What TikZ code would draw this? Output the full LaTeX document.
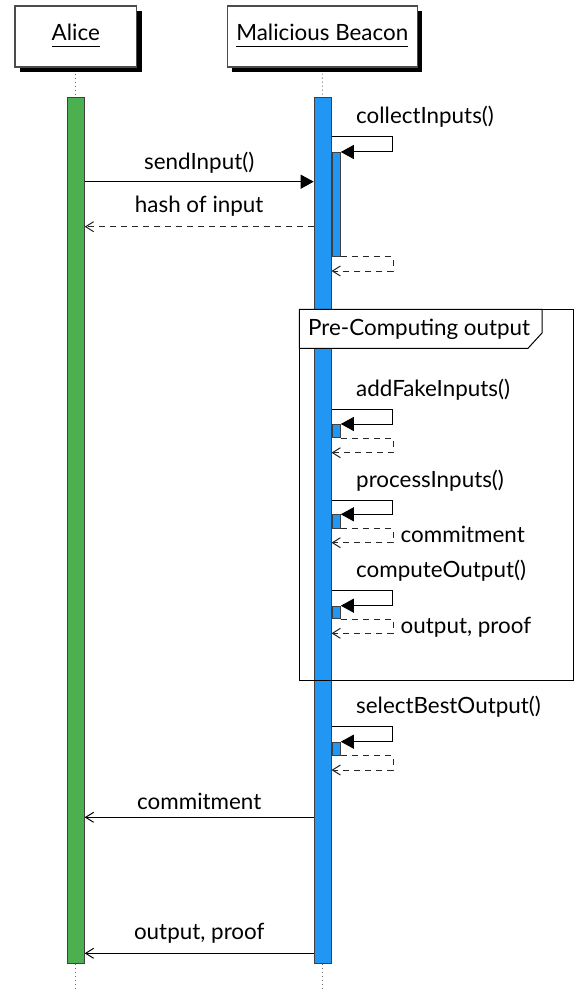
\documentclass[tikz,border=0pt]{standalone}
\usepackage{fontspec}
\setmainfont{Lato}
\usetikzlibrary{arrows.meta,shadows}

\definecolor{alicegreen}{HTML}{4CAF50}
\definecolor{beaconblue}{HTML}{2196F3}

% self call on the beacon: name, top y, arrow y, activation end y, return y, label
\newcommand\selfmsg[6]{%
  \node[nestbar, anchor=north west, minimum height={#4-#3}] (#1) at (bbar.east |- 0,#3) {};
  \draw[call] (bbar.east |- 0,#2) -- ++(60.7,0) |- (#1.north east);
  \draw[reply] (#1.south east) -- ++(52.2,0) |- (bbar.east |- 0,#5);
  \node[anchor=base west] (#1-label) at (356,#2-13) {#6};
}

\begin{document}
\begin{tikzpicture}[x=1pt,y=-1pt,
  every node/.style={font=\fontsize{22.4}{26}\selectfont, inner sep=0pt},
  participant/.style={draw=black!70, line width=1.2pt, fill=white, minimum height=61pt,
    drop shadow={shadow xshift=5pt, shadow yshift=-5pt, opacity=1, fill=black}},
  lifeline/.style={draw=black!60, line width=0.8pt, dash pattern=on 1pt off 3pt},
  actbar/.style={draw=black!75, line width=0.8pt, minimum width=17pt},
  nestbar/.style={draw=black!75, line width=0.8pt, fill=beaconblue, minimum width=8.5pt},
  call/.style={draw=black, line width=1pt, -{Triangle[length=13pt,width=14pt]}},
  reply/.style={draw=black!85, line width=1pt, dash pattern=on 6pt off 5pt,
    -{Straight Barb[length=8pt,width=10pt]}},
  answer/.style={draw=black, line width=1pt, -{Straight Barb[length=8pt,width=10pt]}},
  msglabel/.style={anchor=base, pos=0.5},
]
\fill[white] (0,0) rectangle (574,992);
\useasboundingbox (0,0) rectangle (574,992);

% participants
\node[participant, minimum width=121.5pt] (alice) at (75.8,36.5) {};
\node[participant, minimum width=190pt] (beacon) at (322.3,36.5) {};
\node[anchor=base] (alice-name) at (75.8,40.5) {Alice};
\node[anchor=base] (beacon-name) at (322.3,40.5) {Malicious Beacon};
\draw[line width=1pt] ([yshift=-6.5pt]alice-name.base west) -- ([yshift=-6.5pt]alice-name.base east);
\draw[line width=1pt] ([yshift=-6.5pt]beacon-name.base west) -- ([yshift=-6.5pt]beacon-name.base east);

% activation bars
\node[actbar, fill=alicegreen, anchor=north, minimum height=866pt] (abar) at (75.8,97) {};
\node[actbar, fill=beaconblue, anchor=north, minimum height=866pt] (bbar) at (322.6,97) {};

% lifelines
\coordinate (aend) at (75.8,992);
\coordinate (bend) at (322.6,992);
\draw[lifeline] ([yshift=-6pt]alice.south) -- (abar.north);
\draw[lifeline] ([yshift=-6pt]beacon.south) -- (bbar.north);
\draw[lifeline] (abar.south) -- (aend);
\draw[lifeline] (bbar.south) -- (bend);

% combined fragment
\draw[line width=1pt] (299.3,309.3) rectangle (573.5,680);
\draw[line width=1pt, fill=white] (299.3,309.3) -- (542,309.3) -- (542,333) -- (528,348.3)
  -- (299.3,348.3) -- cycle;
\node[anchor=base west] (frame-label) at (308,335) {Pre-Computing output};

% messages
\selfmsg{collect}{137}{152}{256}{271}{collectInputs()}
\draw[call] (abar.east |- 0,181.7) -- (bbar.west |- 0,181.7)
  node[msglabel, yshift=12pt] (send-label) {sendInput()};
\draw[reply] (bbar.west |- 0,226.7) -- (abar.east |- 0,226.7)
  node[msglabel, yshift=14pt] (hash-label) {hash of input};

\selfmsg{fake}{409}{424}{437.3}{452.7}{addFakeInputs()}
\selfmsg{process}{500}{514.3}{528}{542.7}{processInputs()}
\node[anchor=base west] (process-ret) at (400.5,542.7) {commitment};
\selfmsg{compute}{590.7}{605.7}{618.3}{633.3}{computeOutput()}
\node[anchor=base west] (compute-ret) at (400.5,633.3) {output, proof};
\selfmsg{select}{726.7}{741.7}{755}{770}{selectBestOutput()}

\draw[answer] (bbar.west |- 0,817.3) -- (abar.east |- 0,817.3)
  node[msglabel, yshift=8pt] (commit-label) {commitment};
\draw[answer] (bbar.west |- 0,953.3) -- (abar.east |- 0,953.3)
  node[msglabel, yshift=14pt] (output-label) {output, proof};
\end{tikzpicture}
\end{document}
